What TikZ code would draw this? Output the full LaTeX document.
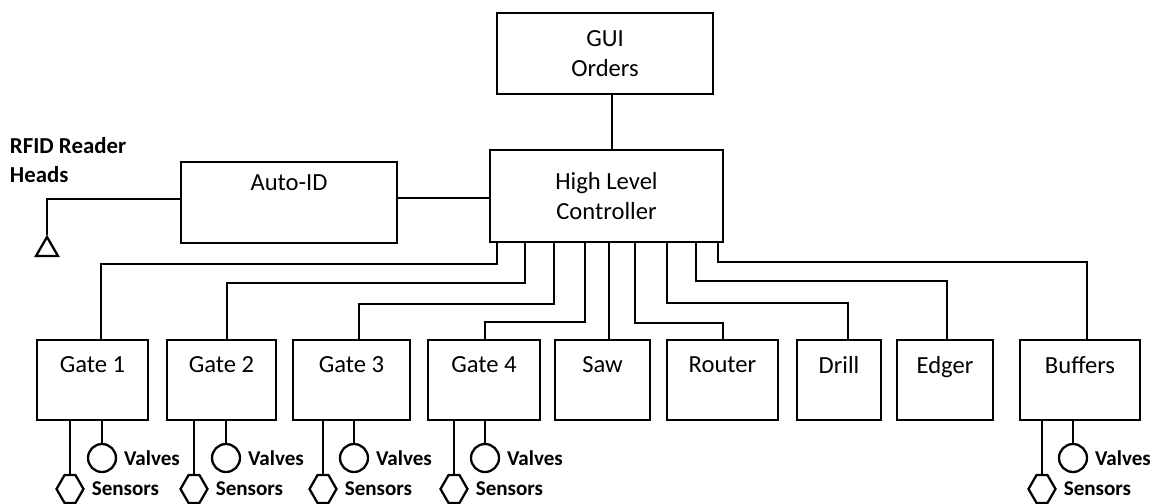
\documentclass[tikz,border=0pt]{standalone}
\usepackage{fontspec}
\setmainfont{Carlito}
\usetikzlibrary{shapes.geometric,shapes.symbols}

\begin{document}
\begin{tikzpicture}[x=0.02cm,y=-0.02cm,line width=1.3pt,
    every node/.style={font=\fontsize{14}{17}\selectfont},
    unit/.style={draw,align=center,inner sep=0pt,minimum height=1.6cm},
    ctrl/.style={draw,align=center,inner sep=0pt},
    sensor/.style={draw,signal,signal to=east and west,signal pointer angle=120,minimum width=0.54cm,minimum height=0.56cm,inner sep=0pt},
    valve/.style={draw,circle,minimum size=0.56cm,inner sep=0pt},
    antenna/.style={draw,regular polygon,regular polygon sides=3,minimum size=0.51cm,inner sep=0pt},
    tag/.style={font=\fontsize{12}{14}\selectfont\bfseries,anchor=west}]
                \useasboundingbox (0,0) rectangle (1157,504);

                \node[ctrl,minimum width=4.32cm,minimum height=1.62cm] (gui) at (605,53.5) {GUI\\Orders};
                \node[ctrl,minimum width=4.66cm,minimum height=1.84cm] (hlc) at (606.5,196) {High Level\\Controller};
                \node[ctrl,minimum width=4.32cm,minimum height=1.62cm] (autoid) at (289,202.5) {Auto-ID\\\strut};
                \node[antenna] (ant) at (47,249.7) {};
                \node[font=\fontsize{13}{17}\selectfont\bfseries,anchor=west,align=left] (rfid) at (3,160) {RFID Reader\\Heads};

                \draw (gui.south -| 612,0) -- (hlc.north -| 612,0);
                \draw (autoid.east |- 0,198) -- (hlc.west |- 0,198);
                \draw (autoid.west |- 0,199) -| (ant.north);

                \foreach \n/\x/\w/\t in {gate1/92.5/2.22/Gate 1,gate2/221.5/2.18/Gate 2,gate3/351.5/2.34/Gate 3,
                    gate4/484/2.24/Gate 4,saw/602.5/1.90/Saw,router/722.5/2.22/Router,drill/839/1.68/Drill,
                    edger/945/1.92/Edger,buffers/1080/2.40/Buffers}
                    \node[unit,minimum width=\w cm] (\n) at (\x,380) {\t\\[-5pt]\strut};

                \foreach \n/\tx/\ly/\dx in {gate1/497/264/101,gate2/525/283/227,gate3/554/304/359,gate4/585/322/485,
                    router/635/323/723,drill/667/303/848,edger/696/281/947,buffers/718/262/1087}
                    \draw (hlc.south -| \tx,0) |- (\dx,\ly) -- (\n.north -| \dx,0);
                \draw (hlc.south -| 609,0) -- (saw.north -| 609,0);

                \foreach \n/\hx/\vx in {gate1/70/102,gate2/194/226,gate3/323/354,gate4/454/485,buffers/1042/1073}{
                    \node[sensor] (s-\n) at (\hx,489) {};
                    \node[valve] (v-\n) at (\vx,458) {};
                    \draw (\n.south -| s-\n) -- (s-\n);
                    \draw (\n.south -| v-\n) -- (v-\n);
                    \node[tag] (vt-\n) at (v-\n.east) {Valves};
                    \node[tag] (st-\n) at (s-\n.east) {Sensors};
                }
\end{tikzpicture}
\end{document}
